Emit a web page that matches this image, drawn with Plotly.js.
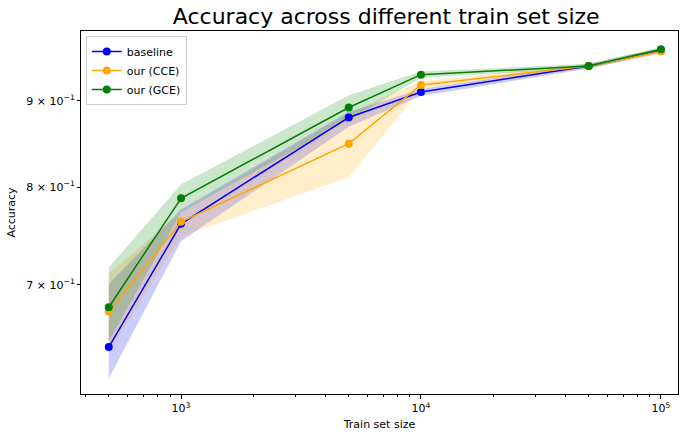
<!DOCTYPE html>
<html>
<head>
<meta charset="utf-8">
<script src="https://cdn.plot.ly/plotly-3.0.1.min.js"></script>
<style>html,body{margin:0;padding:0;background:#fff;}#chart{width:680px;height:435px;}</style>
</head>
<body>
<div id="chart"></div>
<script>
const trainSizes = [500, 1000, 5000, 10000, 50000, 100000];

const baseline   = [0.643, 0.761, 0.880, 0.911, 0.944, 0.964];
const baselineLo = [0.616, 0.743, 0.869, 0.906, 0.941, 0.961];
const baselineHi = [0.701, 0.776, 0.887, 0.915, 0.947, 0.967];

const cce   = [0.675, 0.763, 0.849, 0.920, 0.944, 0.963];
const cceLo = [0.638, 0.748, 0.811, 0.915, 0.941, 0.960];
const cceHi = [0.711, 0.773, 0.885, 0.925, 0.947, 0.966];

const gce   = [0.679, 0.788, 0.892, 0.933, 0.944, 0.966];
const gceLo = [0.648, 0.773, 0.877, 0.929, 0.941, 0.963];
const gceHi = [0.717, 0.803, 0.907, 0.937, 0.947, 0.969];

const seriesNames = ['baseline', 'our (CCE)', 'our (GCE)'];

const xMajor = [1000, 10000, 100000];
const xMajorText = ['10<sup>3</sup>', '10<sup>4</sup>', '10<sup>5</sup>'];
const yMajor = [0.7, 0.8, 0.9];
const yMajorText = ['7 × 10<sup>−1</sup>', '8 × 10<sup>−1</sup>', '9 × 10<sup>−1</sup>'];

const series = [
  {name: seriesNames[0], y: baseline, lo: baselineLo, hi: baselineHi, color: '#0000ff', fill: 'rgba(0,0,255,0.2)'},
  {name: seriesNames[1], y: cce, lo: cceLo, hi: cceHi, color: '#ffa500', fill: 'rgba(255,165,0,0.2)'},
  {name: seriesNames[2], y: gce, lo: gceLo, hi: gceHi, color: '#008000', fill: 'rgba(0,128,0,0.2)'}
];

const minorX = [];
[100, 1000, 10000].forEach(d => { for (let k = 2; k <= 9; k++) minorX.push(k * d); });

const traces = [];
series.forEach(s => {
  traces.push({
    x: trainSizes.concat(trainSizes.slice().reverse()),
    y: s.hi.concat(s.lo.slice().reverse()),
    type: 'scatter', mode: 'lines', fill: 'toself',
    fillcolor: s.fill, line: {width: 0}, hoverinfo: 'skip', showlegend: false
  });
});
series.forEach(s => {
  traces.push({
    x: trainSizes, y: s.y, name: s.name,
    type: 'scatter', mode: 'lines+markers',
    line: {color: s.color, width: 1.5},
    marker: {color: s.color, size: 8}
  });
});

const layout = {
  width: 680, height: 435,
  margin: {l: 81, r: 2, t: 31, b: 41},
  paper_bgcolor: '#fff', plot_bgcolor: '#fff',
  font: {family: 'DejaVu Sans', size: 11, color: '#000'},
  title: {text: 'Accuracy across different train set size', font: {size: 22, family: 'DejaVu Sans'}, x: 0.568, xanchor: 'center', y: 0.962, yanchor: 'middle'},
  xaxis: {
    type: 'log', range: [Math.log10(383), Math.log10(117800)],
    tickmode: 'array', tickvals: xMajor, ticktext: xMajorText,
    ticks: 'outside', ticklen: 4, tickcolor: '#000', showgrid: false, zeroline: false,
    showline: true, linecolor: '#000', linewidth: 1, mirror: true,
    tickfont: {size: 11},
    minor: {tickmode: 'array', tickvals: minorX, ticks: 'outside', ticklen: 2, tickcolor: '#000', showgrid: false},
    title: {text: 'Train set size', font: {size: 11}, standoff: 6}
  },
  yaxis: {
    type: 'log', range: [Math.log10(0.6031), Math.log10(0.9903)],
    tickmode: 'array', tickvals: yMajor, ticktext: yMajorText,
    ticks: 'outside', ticklen: 3, tickcolor: '#000', showgrid: false, zeroline: false,
    showline: true, linecolor: '#000', linewidth: 1, mirror: true,
    tickfont: {size: 11},
    title: {text: 'Accuracy', font: {size: 11}, standoff: 8}
  },
  legend: {
    x: 0.008, y: 0.986, xanchor: 'left', yanchor: 'top',
    bgcolor: 'rgba(255,255,255,0.8)', bordercolor: '#d0d0d0', borderwidth: 1,
    font: {size: 11}, tracegroupgap: 0, itemwidth: 30
  },
  showlegend: true
};

Plotly.newPlot('chart', traces, layout, {displayModeBar: false, staticPlot: true});
</script>
</body>
</html>
